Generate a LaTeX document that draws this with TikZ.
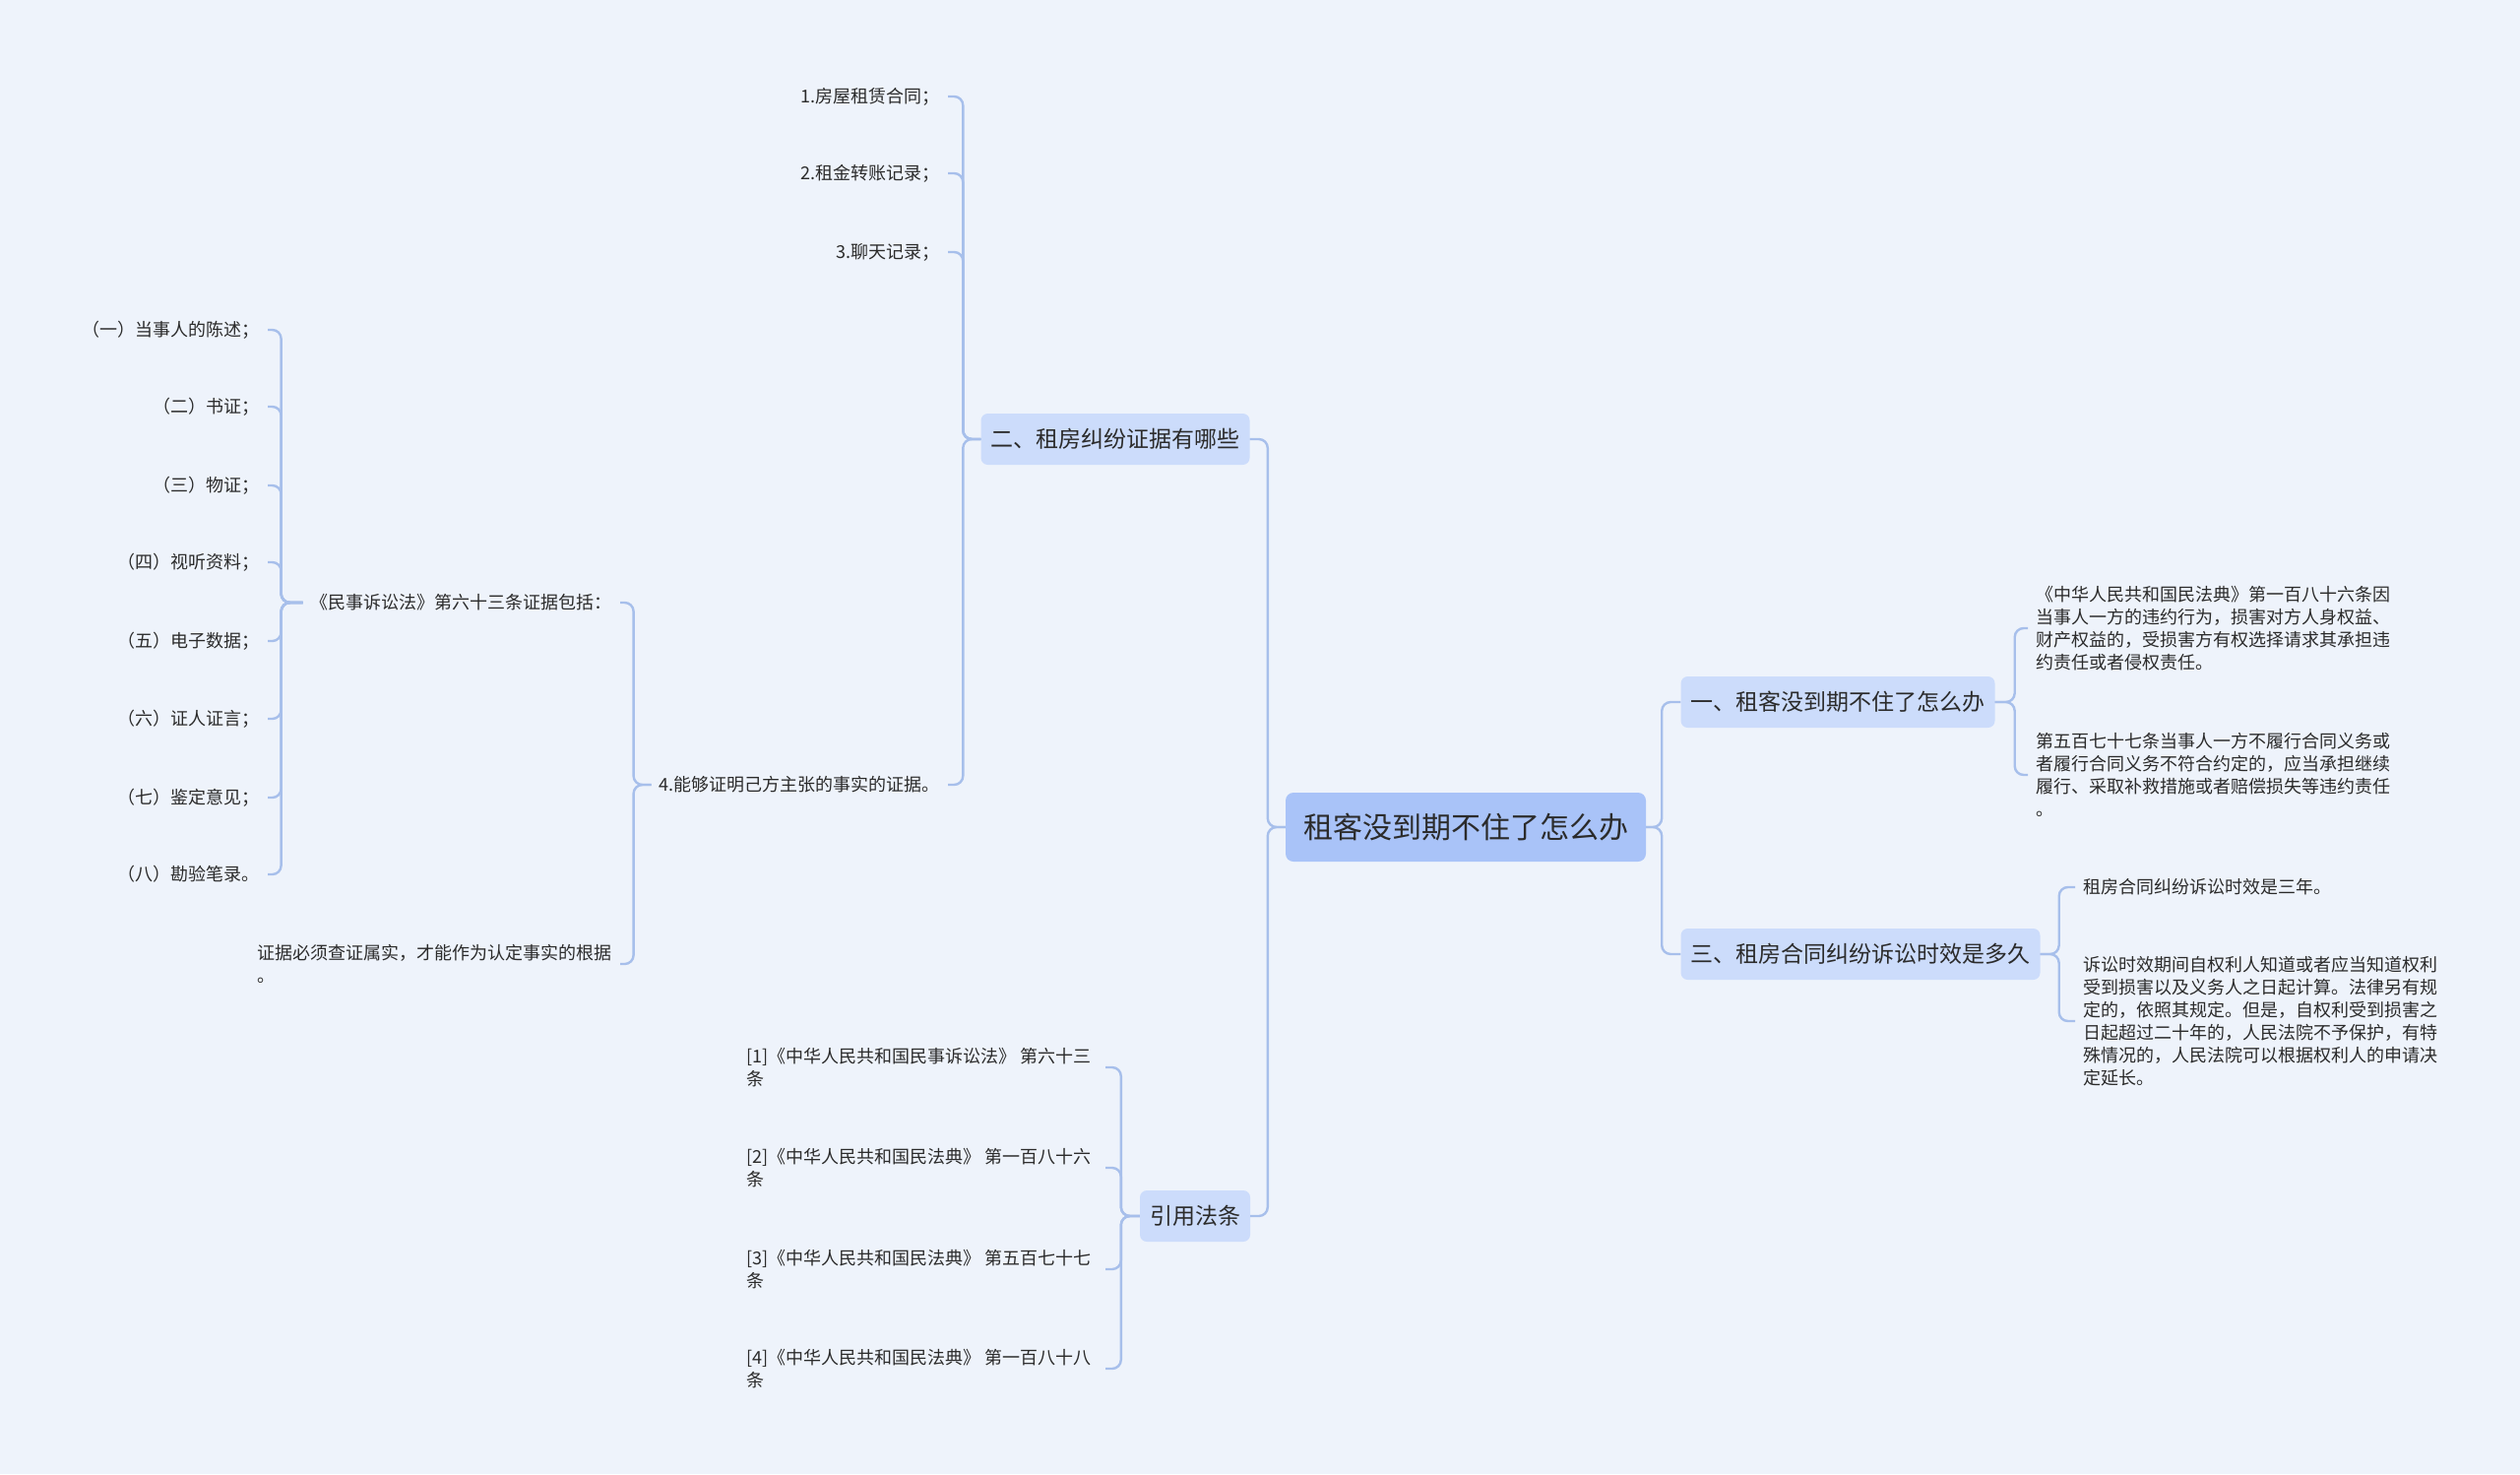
\documentclass[tikz,border=0pt]{standalone}
\usepackage{fontspec}
\setmainfont{Noto Sans CJK SC}
\usetikzlibrary{positioning}

\definecolor{bgcol}{HTML}{EEF3FB}
\definecolor{rootcol}{HTML}{A9C3F8}
\definecolor{branchcol}{HTML}{CCDCFB}
\definecolor{linecol}{HTML}{A7BFEB}
\definecolor{txtcol}{HTML}{2B2B2B}

\begin{document}
\begin{tikzpicture}[x=1pt,y=-1pt,
        every node/.style={text=txtcol},
        root/.style={fill=rootcol,rounded corners=8pt,minimum width=366pt,minimum height=70pt,font=\fontsize{30}{36}\selectfont},
        branch/.style={fill=branchcol,rounded corners=7pt,inner xsep=10pt,minimum height=52pt,font=\fontsize{23}{28}\selectfont},
        leaf/.style={inner xsep=8pt,inner ysep=2pt,align=left,font=\fontsize{18}{23}\selectfont},
        lleaf/.style={leaf,anchor=east},
        rleaf/.style={leaf,anchor=west},
        lawleaf/.style={lleaf,inner xsep=14pt},
        link/.style={draw=linecol,line width=2.4pt,rounded corners=9pt}]
        \fill[bgcol] (0,0) rectangle (2560,1497);
        \useasboundingbox (0,0) rectangle (2560,1497);

        % centre and main branches
        \node[root] (root) at (1489,840) {租客没到期不住了怎么办};
        \node[branch] (evid) at (1133,446) {二、租房纠纷证据有哪些};
        \node[branch] (laws) at (1214,1235) {引用法条};
        \node[branch] (what) at (1867,713) {一、租客没到期不住了怎么办};
        \node[branch] (limit) at (1890,969) {三、租房合同纠纷诉讼时效是多久};

        % evidence
        \node[lleaf] (ev1) at (963,98) {1.房屋租赁合同；};
        \node[lleaf] (ev2) at (963,176) {2.租金转账记录；};
        \node[lleaf] (ev3) at (963,256) {3.聊天记录；};
        \node[lleaf] (ev4) at (963,797) {4.能够证明己方主张的事实的证据。};
        \node[lleaf] (code) at (630,612) {《民事诉讼法》第六十三条证据包括：};
        \node[lleaf] (check) at (630,979) {证据必须查证属实，才能作为认定事实的根据\\。};
        \node[lleaf] (civ1) at (272,335) {（一）当事人的陈述；};
        \node[lleaf] (civ2) at (272,413) {（二）书证；};
        \node[lleaf] (civ3) at (272,493) {（三）物证；};
        \node[lleaf] (civ4) at (272,571) {（四）视听资料；};
        \node[lleaf] (civ5) at (272,651) {（五）电子数据；};
        \node[lleaf] (civ6) at (272,730) {（六）证人证言；};
        \node[lleaf] (civ7) at (272,810) {（七）鉴定意见；};
        \node[lleaf] (civ8) at (272,888) {（八）勘验笔录。};

        % cited articles
        \node[lawleaf] (law1) at (1123,1084) {[1]《中华人民共和国民事诉讼法》 第六十三\\条};
        \node[lawleaf] (law2) at (1123,1186) {[2]《中华人民共和国民法典》 第一百八十六\\条};
        \node[lawleaf] (law3) at (1123,1289) {[3]《中华人民共和国民法典》 第五百七十七\\条};
        \node[lawleaf] (law4) at (1123,1390) {[4]《中华人民共和国民法典》 第一百八十八\\条};

        % right side
        \node[rleaf] (what1) at (2060,638) {《中华人民共和国民法典》第一百八十六条因\\当事人一方的违约行为，损害对方人身权益、\\财产权益的，受损害方有权选择请求其承担违\\约责任或者侵权责任。};
        \node[rleaf] (what2) at (2060,787) {第五百七十七条当事人一方不履行合同义务或\\者履行合同义务不符合约定的，应当承担继续\\履行、采取补救措施或者赔偿损失等违约责任\\。};
        \node[rleaf] (lim1) at (2108,901) {租房合同纠纷诉讼时效是三年。};
        \node[rleaf] (lim2) at (2108,1037) {诉讼时效期间自权利人知道或者应当知道权利\\受到损害以及义务人之日起计算。法律另有规\\定的，依照其规定。但是，自权利受到损害之\\日起超过二十年的，人民法院不予保护，有特\\殊情况的，人民法院可以根据权利人的申请决\\定延长。};

        \draw[link] (root.west) -- ++(-18,0) |- (evid.east);
        \draw[link] (root.west) -- ++(-18,0) |- (laws.east);
        \draw[link] (root.east) -- ++(16,0) |- (what.west);
        \draw[link] (root.east) -- ++(16,0) |- (limit.west);

        \draw[link] (evid.west) -- ++(-18,0) |- (ev1.east);
        \draw[link] (evid.west) -- ++(-18,0) |- (ev2.east);
        \draw[link] (evid.west) -- ++(-18,0) |- (ev3.east);
        \draw[link] (evid.west) -- ++(-18,0) |- (ev4.east);
        \draw[link] (ev4.west) -- ++(-18,0) |- (code.east);
        \draw[link] (ev4.west) -- ++(-18,0) |- (check.east);
        \draw[link] (code.west) -- ++(-22,0) |- (civ1.east);
        \draw[link] (code.west) -- ++(-22,0) |- (civ2.east);
        \draw[link] (code.west) -- ++(-22,0) |- (civ3.east);
        \draw[link] (code.west) -- ++(-22,0) |- (civ4.east);
        \draw[link] (code.west) -- ++(-22,0) |- (civ5.east);
        \draw[link] (code.west) -- ++(-22,0) |- (civ6.east);
        \draw[link] (code.west) -- ++(-22,0) |- (civ7.east);
        \draw[link] (code.west) -- ++(-22,0) |- (civ8.east);

        \draw[link] (laws.west) -- ++(-19,0) |- (law1.east);
        \draw[link] (laws.west) -- ++(-19,0) |- (law2.east);
        \draw[link] (laws.west) -- ++(-19,0) |- (law3.east);
        \draw[link] (laws.west) -- ++(-19,0) |- (law4.east);

        \draw[link] (what.east) -- ++(20,0) |- (what1.west);
        \draw[link] (what.east) -- ++(20,0) |- (what2.west);
        \draw[link] (limit.east) -- ++(19,0) |- (lim1.west);
        \draw[link] (limit.east) -- ++(19,0) |- (lim2.west);
    \end{tikzpicture}
\end{document}
